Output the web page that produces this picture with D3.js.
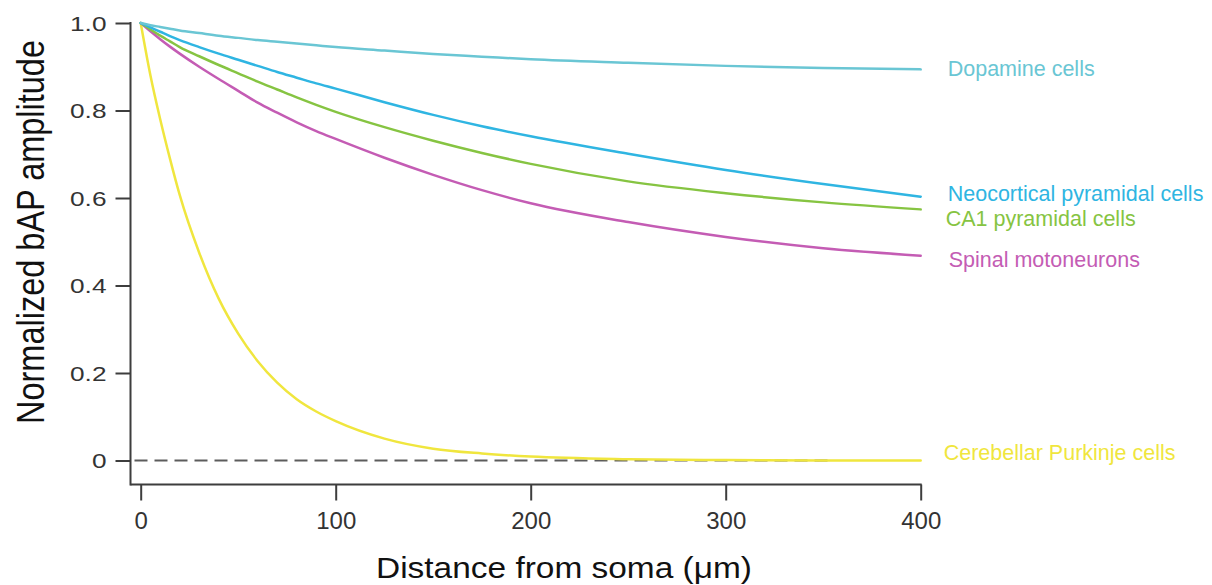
<!DOCTYPE html>
<html>
<head>
<meta charset="utf-8">
<script src="https://cdn.jsdelivr.net/npm/d3@7"></script>
<style>
  html, body { margin: 0; padding: 0; background: #fff; }
  svg { display: block; font-family: "Liberation Sans", Arial, Helvetica, sans-serif; }
</style>
</head>
<body>
<svg id="chart" width="1212" height="585"></svg>
<script>
// Distance from the soma (µm) at which each attenuation profile is sampled
const distances = [0, 5, 10, 15, 20, 30, 40, 50, 60, 70, 80, 90, 100, 125, 150, 175, 200, 250, 300, 350, 400];

// Normalized back-propagating AP amplitude for each cell type
const dopamine    = [1.000, 0.995, 0.991, 0.987, 0.983, 0.977, 0.971, 0.966, 0.961, 0.957, 0.953, 0.949, 0.945, 0.937, 0.929, 0.923, 0.917, 0.909, 0.902, 0.897, 0.894];
const neocortical = [1.000, 0.990, 0.980, 0.970, 0.961, 0.945, 0.930, 0.916, 0.902, 0.888, 0.875, 0.862, 0.850, 0.819, 0.790, 0.764, 0.741, 0.701, 0.664, 0.632, 0.603];
const ca1         = [1.000, 0.985, 0.971, 0.958, 0.945, 0.924, 0.904, 0.885, 0.866, 0.848, 0.830, 0.813, 0.797, 0.762, 0.731, 0.703, 0.678, 0.638, 0.611, 0.590, 0.574];
const motoneurons = [1.000, 0.981, 0.963, 0.946, 0.930, 0.900, 0.872, 0.845, 0.818, 0.795, 0.773, 0.753, 0.735, 0.692, 0.653, 0.618, 0.588, 0.545, 0.511, 0.485, 0.468];
const purkinje    = [1.000, 0.880, 0.780, 0.690, 0.607, 0.475, 0.370, 0.290, 0.227, 0.178, 0.140, 0.112, 0.090, 0.050, 0.027, 0.016, 0.009, 0.003, 0.001, 0.000, 0.000];

const seriesNames = ["Dopamine cells", "Neocortical pyramidal cells", "CA1 pyramidal cells", "Spinal motoneurons", "Cerebellar Purkinje cells"];
const seriesValues = [dopamine, neocortical, ca1, motoneurons, purkinje];

const xTicks = [0, 100, 200, 300, 400];
const yTicks = [0, 0.2, 0.4, 0.6, 0.8, 1.0];
const yTickLabels = ["0", "0.2", "0.4", "0.6", "0.8", "1.0"];

// Styling
const colors = ["#6ac6d4", "#2fb5e2", "#86c442", "#c45cb4", "#f0e63e"];
const labelDy = [7, 4.5, 16.5, 11.5, -0.5];     // baseline offset of each end label from its line end
const labelDx = [27, 27, 25, 28, 23];
const axisColor = "#3d3d3d";

const svg = d3.select("#chart");

const x = d3.scaleLinear().domain([0, 400]).range([140.7, 920.7]);
const y = d3.scaleLinear().domain([0, 1]).range([460.5, 23]);

const yAxisX = 130.5;
const xAxisY = 484.5;

// Zero reference line (dashed)
svg.append("line")
  .attr("x1", yAxisX).attr("x2", x(355))
  .attr("y1", y(0)).attr("y2", y(0))
  .attr("stroke", "#5c5c5c").attr("stroke-width", 2)
  .attr("stroke-dasharray", "13,7")
  .attr("stroke-dashoffset", -4);

// Attenuation curves
const line = d3.line()
  .x((d, i) => x(distances[i]))
  .y(d => y(d))
  .curve(d3.curveMonotoneX);

svg.append("g").selectAll("path")
  .data(seriesValues.slice().reverse())
  .join("path")
  .attr("d", d => line(d))
  .attr("fill", "none")
  .attr("stroke", (d, i) => colors[colors.length - 1 - i])
  .attr("stroke-width", 2.5)
  .attr("stroke-linejoin", "round")
  .attr("stroke-linecap", "round");

// End-of-line labels
svg.append("g").selectAll("text")
  .data(seriesNames)
  .join("text")
  .attr("x", (d, i) => x(400) + labelDx[i])
  .attr("y", (d, i) => y(seriesValues[i][seriesValues[i].length - 1]) + labelDy[i])
  .attr("fill", (d, i) => colors[i])
  .attr("font-size", "21.5px")
  .text(d => d);

// Y axis
const yAxis = d3.axisLeft(y)
  .tickValues(yTicks)
  .tickFormat((d, i) => yTickLabels[i])
  .tickSize(15)
  .tickPadding(9);

const gy = svg.append("g")
  .attr("transform", `translate(${yAxisX},0)`)
  .call(yAxis);
gy.select(".domain").remove();
gy.selectAll(".tick line").attr("stroke", axisColor).attr("stroke-width", 2);
gy.selectAll(".tick text")
  .attr("x", 0)
  .attr("dy", "0.36em")
  .attr("transform", "translate(-24,0) scale(1.28,1)")
  .attr("fill", "#333")
  .attr("font-size", "20.5px")
  .attr("font-family", "'Liberation Sans', Arial, Helvetica, sans-serif");

svg.append("line")
  .attr("x1", yAxisX).attr("x2", yAxisX)
  .attr("y1", y(1) - 1).attr("y2", xAxisY + 1)
  .attr("stroke", axisColor).attr("stroke-width", 2);

// X axis
const xAxis = d3.axisBottom(x)
  .tickValues(xTicks)
  .tickFormat(d3.format("d"))
  .tickSize(16)
  .tickPadding(11);

const gx = svg.append("g")
  .attr("transform", `translate(0,${xAxisY})`)
  .call(xAxis);
gx.select(".domain").remove();
gx.selectAll(".tick line").attr("stroke", axisColor).attr("stroke-width", 2);
gx.selectAll(".tick text")
  .attr("fill", "#333")
  .attr("font-size", "24px")
  .attr("font-family", "'Liberation Sans', Arial, Helvetica, sans-serif");

svg.append("line")
  .attr("x1", yAxisX).attr("x2", x(400) + 1)
  .attr("y1", xAxisY).attr("y2", xAxisY)
  .attr("stroke", axisColor).attr("stroke-width", 2);

// Axis titles
svg.append("text")
  .attr("x", 564).attr("y", 578)
  .attr("text-anchor", "middle")
  .attr("font-size", "30px")
  .attr("fill", "#111")
  .attr("textLength", 376)
  .attr("lengthAdjust", "spacingAndGlyphs")
  .text("Distance from soma (μm)");

svg.append("text")
  .attr("transform", "translate(44,232) rotate(-90) scale(1,1.2)")
  .attr("text-anchor", "middle")
  .attr("font-size", "32.5px")
  .attr("fill", "#111")
  .text("Normalized bAP amplitude");
</script>
</body>
</html>
